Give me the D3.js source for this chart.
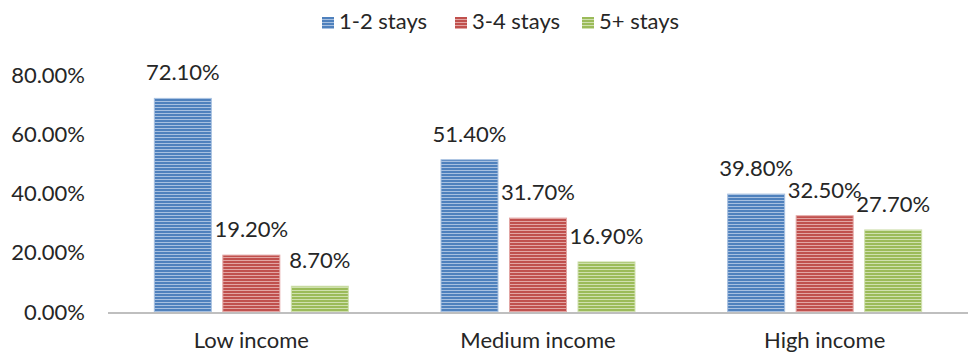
<!DOCTYPE html>
<html>
<head>
<meta charset="utf-8">
<script src="https://cdn.jsdelivr.net/npm/d3@7"></script>
<style>
  body { margin: 0; background: #fff; }
  text { font-family: Lato, "Noto Sans", sans-serif; }
</style>
</head>
<body>
<div id="chart"></div>
<script>
// <-- ************ DATA ************ -->
const CATEGORIES = ["Low income", "Medium income", "High income"];
const SERIES = ["1-2 stays", "3-4 stays", "5+ stays"];
const STAYS_1_2 = [0.721, 0.514, 0.398];
const STAYS_3_4 = [0.192, 0.317, 0.325];
const STAYS_5 = [0.087, 0.169, 0.277];
const Y_TICKS = [0, 0.2, 0.4, 0.6, 0.8];

// <-- ************ FRAME ************ -->
const FRAME_WIDTH = 974;
const FRAME_HEIGHT = 354;
const PLOT = {left: 108, right: 968, top: 75, bottom: 312};
const FONT_SIZE = 22;

const COLOR = d3.scaleOrdinal().domain(SERIES).range(["#4f81bd", "#c0504d", "#9bbb59"]);
const STRIPE = d3.scaleOrdinal().domain(SERIES).range(["#a7c0e0", "#e2a5a3", "#cfe0ae"]);

const rows = CATEGORIES.map((c, i) => ({
  cat: c,
  vals: [STAYS_1_2[i], STAYS_3_4[i], STAYS_5[i]].map((v, j) => ({series: SERIES[j], value: v}))
}));

const svg = d3.select("#chart").append("svg")
  .attr("width", FRAME_WIDTH)
  .attr("height", FRAME_HEIGHT);

// striped fills like the narrow horizontal pattern
const defs = svg.append("defs");
SERIES.forEach((s, i) => {
  const p = defs.append("pattern")
    .attr("id", "pat" + i)
    .attr("patternUnits", "userSpaceOnUse")
    .attr("width", 6).attr("height", 3);
  p.append("rect").attr("width", 6).attr("height", 3).attr("fill", COLOR(s));
  p.append("rect").attr("y", 2).attr("width", 6).attr("height", 1).attr("fill", STRIPE(s));
});

const X0 = d3.scaleBand().domain(CATEGORIES).range([PLOT.left, PLOT.right]);
const GROUP_W = 194;
const X1 = d3.scaleBand().domain(SERIES)
  .range([(X0.bandwidth() - GROUP_W) / 2, (X0.bandwidth() + GROUP_W) / 2])
  .paddingInner(0.168);
const Y = d3.scaleLinear().domain([0, 0.8]).range([PLOT.bottom, PLOT.top]);

// y axis labels (no line)
const yAxis = svg.append("g")
  .attr("transform", "translate(85,0)")
  .call(d3.axisLeft(Y).tickValues(Y_TICKS).tickFormat(d3.format(".2%")).tickSize(0).tickPadding(0));
yAxis.select(".domain").remove();
yAxis.selectAll("text").attr("font-size", FONT_SIZE).attr("fill", "#262626")
  .attr("font-family", "Lato, 'Noto Sans', sans-serif");

// bars
const groups = svg.append("g").selectAll("g")
  .data(rows).enter().append("g")
  .attr("transform", d => "translate(" + X0(d.cat) + ",0)");

groups.selectAll("rect")
  .data(d => d.vals).enter().append("rect")
  .attr("x", d => X1(d.series))
  .attr("y", d => Y(d.value))
  .attr("width", X1.bandwidth())
  .attr("height", d => Y(0) - Y(d.value))
  .attr("fill", (d, i) => "url(#pat" + i + ")")
  .attr("stroke", d => STRIPE(d.series))
  .attr("stroke-width", 1);

groups.selectAll("text")
  .data(d => d.vals).enter().append("text")
  .attr("x", d => X1(d.series) + X1.bandwidth() / 2)
  .attr("y", d => Y(d.value) - 18)
  .attr("text-anchor", "middle")
  .attr("font-size", FONT_SIZE)
  .attr("fill", "#262626")
  .text(d => d3.format(".2%")(d.value));

// x axis line and labels
svg.append("line")
  .attr("x1", PLOT.left).attr("x2", PLOT.right)
  .attr("y1", PLOT.bottom + 1).attr("y2", PLOT.bottom + 1)
  .attr("stroke", "#bfbfbf").attr("stroke-width", 2);

svg.append("g").selectAll("text")
  .data(CATEGORIES).enter().append("text")
  .attr("x", d => X0(d) + X0.bandwidth() / 2)
  .attr("y", 348)
  .attr("text-anchor", "middle")
  .attr("font-size", FONT_SIZE)
  .attr("fill", "#262626")
  .text(d => d);

// legend
const LEGEND_X = [322, 455, 582];
const legend = svg.append("g").selectAll("g")
  .data(SERIES).enter().append("g")
  .attr("transform", (d, i) => "translate(" + LEGEND_X[i] + ",17)");
legend.append("rect")
  .attr("width", 12).attr("height", 12)
  .attr("fill", (d, i) => "url(#pat" + i + ")");
legend.append("text")
  .attr("x", 17).attr("y", 12)
  .attr("font-size", FONT_SIZE)
  .attr("fill", "#262626")
  .text(d => d);
</script>
</body>
</html>
